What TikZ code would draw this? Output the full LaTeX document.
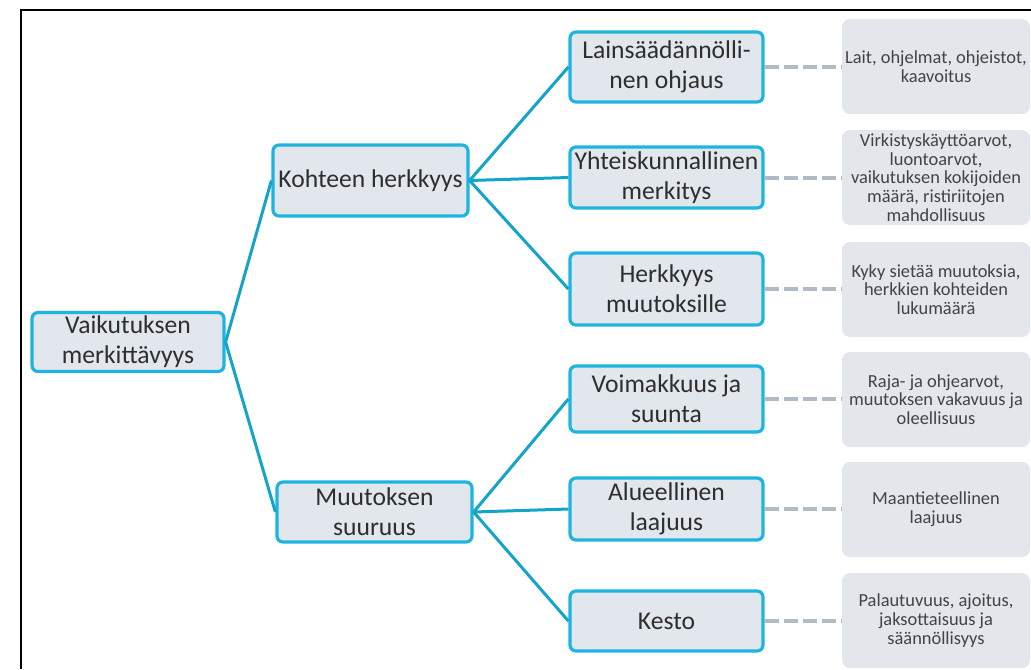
\documentclass[tikz,border=0pt]{standalone}
\usepackage{fontspec}
\setmainfont{Carlito}
\usetikzlibrary{arrows}

\definecolor{boxcyan}{HTML}{1DB5E0}
\definecolor{linecyan}{HTML}{14A4C9}
\definecolor{boxfill}{HTML}{E2E6ED}
\definecolor{notefill}{HTML}{E3E6EB}
\definecolor{tiegray}{HTML}{B2BAC6}
\definecolor{textdark}{HTML}{2E2E2E}

\begin{document}
\begin{tikzpicture}
    [
    x=0.5pt,y=-0.5pt,
    topic/.style={rectangle,rounded corners=3pt,draw=boxcyan,line width=1.6pt,
        fill=boxfill,text=textdark,align=center,inner sep=1pt,
        font=\fontsize{12.8}{15}\selectfont,minimum height=32pt},
    note/.style={rectangle,rounded corners=4pt,fill=notefill,text=textdark!90,
        align=center,inner sep=0pt,minimum width=94pt,minimum height=47.5pt,
        font=\fontsize{9.2}{9.4}\selectfont},
    branch/.style={draw=linecyan,line width=1.5pt},
    tie/.style={draw=tiegray,line width=2pt,dash pattern=on 7pt off 2.5pt}
    ]
\useasboundingbox (0,0) rectangle (1031,669);
\draw[line width=1pt] (21,669) -- (21,9.5) -- (1031,9.5);

\node[topic,minimum width=96pt,minimum height=29.5pt] (root) at (128,342) {Vaikutuksen\\merkittävyys};
\node[topic,minimum width=97.5pt,minimum height=35.5pt] (kohde) at (370.5,180.5) {Kohteen herkkyys};
\node[topic,minimum width=97.5pt,minimum height=30pt] (muutos) at (374.5,512) {Muutoksen\\suuruus};

\node[topic,minimum width=96.5pt,minimum height=35pt] (laki) at (666.5,67) {Lainsäädännölli-\\nen ohjaus};
\node[topic,minimum width=96.5pt,minimum height=30.5pt] (yhteis) at (666.5,177.5) {Yhteiskunnallinen\\merkitys};
\node[topic,minimum width=96.5pt,minimum height=36pt] (herk) at (666.5,289) {Herkkyys\\muutoksille};
\node[topic,minimum width=96.5pt,minimum height=33pt] (voima) at (666.5,399) {Voimakkuus ja\\suunta};
\node[topic,minimum width=96.5pt,minimum height=31pt] (alue) at (666.5,509) {Alueellinen\\laajuus};
\node[topic,minimum width=96.5pt,minimum height=30pt] (kesto) at (666.5,621) {Kesto};

\node[note] (n1) at (936,66.5) {Lait, ohjelmat, ohjeistot,\\kaavoitus};
\node[note] (n2) at (936,177.5) {Virkistyskäyttöarvot,\\luontoarvot,\\vaikutuksen kokijoiden\\määrä, ristiriitojen\\mahdollisuus};
\node[note] (n3) at (936,289.5) {Kyky sietää muutoksia,\\herkkien kohteiden\\lukumäärä};
\node[note] (n4) at (936,399.5) {Raja- ja ohjearvot,\\muutoksen vakavuus ja\\oleellisuus};
\node[note] (n5) at (936,509.5) {Maantieteellinen\\laajuus};
\node[note] (n6) at (936,620.5) {Palautuvuus, ajoitus,\\jaksottaisuus ja\\säännöllisyys};

\draw[branch] (root.east) -- (kohde.west);
\draw[branch] (root.east) -- (muutos.west);
\draw[branch] (kohde.east) -- (laki.west);
\draw[branch] (kohde.east) -- (yhteis.west);
\draw[branch] (kohde.east) -- (herk.west);
\draw[branch] (muutos.east) -- (voima.west);
\draw[branch] (muutos.east) -- (alue.west);
\draw[branch] (muutos.east) -- (kesto.west);

\draw[tie] (laki.east) -- (laki.east -| n1.west);
\draw[tie] (yhteis.east) -- (yhteis.east -| n2.west);
\draw[tie] (herk.east) -- (herk.east -| n3.west);
\draw[tie] (voima.east) -- (voima.east -| n4.west);
\draw[tie] (alue.east) -- (alue.east -| n5.west);
\draw[tie] (kesto.east) -- (kesto.east -| n6.west);
\end{tikzpicture}
\end{document}
